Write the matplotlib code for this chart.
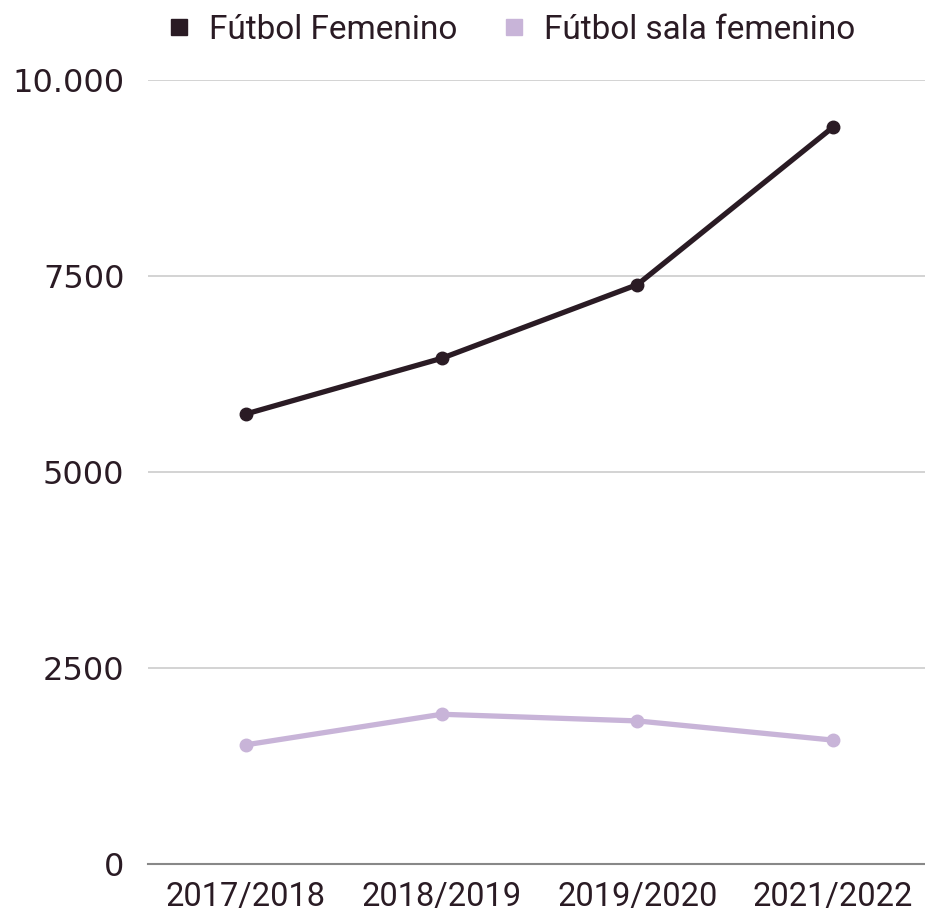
import matplotlib.pyplot as plt
from matplotlib.lines import Line2D

seasons = ['2017/2018', '2018/2019', '2019/2020', '2021/2022']
futbol_fem = [5740, 6450, 7390, 9400]
sala_fem = [1520, 1910, 1825, 1580]
series_names = ['Fútbol Femenino', 'Fútbol sala femenino']
yticks = [0, 2500, 5000, 7500, 10000]
ytick_labels = ['0', '2500', '5000', '7500', '10.000']

dark = '#2a1b24'
light = '#c8b4d8'
text_color = '#2a1b24'

plt.rcParams['font.family'] = ['Roboto', 'DejaVu Sans']

fig = plt.figure(figsize=(9.25, 9.14), dpi=100)
ax = fig.add_axes([148 / 925, 1 - 864 / 914, 783 / 925, 784 / 914])

x = range(len(seasons))
ax.plot(x, futbol_fem, color=dark, lw=3.8, marker='o', ms=9, zorder=3)
ax.plot(x, sala_fem, color=light, lw=3.8, marker='o', ms=9, zorder=3)

ax.set_xlim(-0.5, len(seasons) - 0.5)
ax.set_ylim(0, 10000)
ax.set_yticks(yticks)
ax.set_yticklabels(ytick_labels, family='DejaVu Sans', fontsize=23)
ax.set_xticks(list(x))
ax.set_xticklabels(seasons, fontsize=23.5)

ax.grid(axis='y', color='#cccccc', lw=1.2)
ax.set_axisbelow(True)
for s in ['top', 'right', 'left']:
    ax.spines[s].set_visible(False)
ax.spines['bottom'].set_color('#888888')
ax.spines['bottom'].set_linewidth(1.5)
ax.spines['bottom'].set_zorder(2)

ax.tick_params(axis='y', length=0, pad=17, labelcolor=text_color)
ax.tick_params(axis='x', length=0, pad=12, labelcolor=text_color)

handles = [Line2D([], [], ls='none', marker='s', ms=11, color=dark),
           Line2D([], [], ls='none', marker='s', ms=11, color=light)]
fig.legend(handles, series_names, loc='center', ncol=2,
           bbox_to_anchor=(0.552, 1 - 30 / 914), frameon=False,
           fontsize=24, labelcolor=text_color, handlelength=0.8,
           handletextpad=0.5, columnspacing=1.3)

fig.savefig('out.png', dpi=100)
